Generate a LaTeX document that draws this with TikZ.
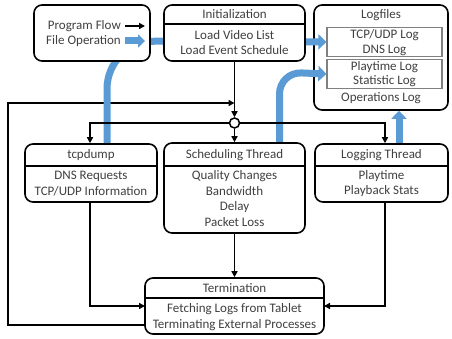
\documentclass[tikz,border=0pt]{standalone}
\usepackage{fontspec}
\setmainfont{Carlito}
\usetikzlibrary{arrows.meta}
\definecolor{tc}{HTML}{404040}
\definecolor{fblue}{HTML}{5B9BD5}
\definecolor{lgray}{HTML}{808080}
\tikzset{
  box/.style={draw, line width=1.6pt, rounded corners=8pt, fill=white, inner sep=0pt},
  logbox/.style={draw=lgray, line width=1.2pt, fill=white, inner sep=0pt},
  txt/.style={text=tc, inner sep=0pt, align=center, font=\fontsize{13}{15.5}\selectfont},
  flow/.style={line width=1.5pt, -{Triangle[length=6pt,width=6pt]}},
  fileop/.style={fblue, line width=7pt, -{Triangle[length=8pt,width=15pt]}},
  hline/.style={line width=1.6pt}
}
\begin{document}
\begin{tikzpicture}[x=1pt,y=-1pt]
\useasboundingbox (0,0) rectangle (452,339);

% Logfiles box (drawn first, blue arrows over it)
\node[box, minimum width=134pt, minimum height=105pt] (logf) at (381,57.5) {};
\node[txt] (logfT) at (381,15) {Logfiles};
\node[logbox, minimum width=115pt, minimum height=29pt] (lb1) at (384.5,42) {};
\node[txt] (lb1a) at (384.5,35) {TCP/UDP Log};
\node[txt] (lb1b) at (384.5,50.5) {DNS Log};
\node[logbox, minimum width=115pt, minimum height=29pt] (lb2) at (384.5,74) {};
\node[txt] (lb2a) at (384.5,67) {Playtime Log};
\node[txt] (lb2b) at (384.5,81.5) {Statistic Log};
\node[txt] (lb3) at (381,98) {Operations Log};

% black flow lines
\coordinate (jn) at (234.5,103);
\coordinate (tl) at (145,325);
\coordinate (tw) at (145,306);
\coordinate (te) at (324,306);
\coordinate (lp1) at (8,325);
\coordinate (lp2) at (8,103);
\node[draw, line width=1.5pt, circle, minimum size=10pt, inner sep=0pt, fill=white] (circ) at (234.5,123) {};
\draw[flow] (tl) -- (lp1) -- (lp2) -- (jn);

% Blue file operation arrows
\coordinate (tcpb) at (107,144);
\coordinate (schb) at (279.5,143);
\coordinate (logb) at (399,144);
\draw[fileop, rounded corners=48pt] (tcpb) -- (107,41) -- (lb1.west);
\draw[fileop, rounded corners=22pt] (schb) -- (279.5,72) -- (lb2.west);
\draw[fileop] (logb) -- (logf.south -| logb);

% Boxes
\node[box, minimum width=116pt, minimum height=56pt] (leg) at (92,33) {};
\node[txt, anchor=east] (legA) at (121,26) {Program Flow};
\node[txt, anchor=east] (legB) at (121,41) {File Operation};
\coordinate (la1) at (125,26);
\coordinate (la2) at (145,26);
\coordinate (lb1s) at (125,41);
\coordinate (lb2s) at (145,41);
\draw[flow] (la1) -- (la2);
\draw[fileop, -{Triangle[length=7pt,width=13pt]}] (lb1s) -- (lb2s);

\node[box, minimum width=141pt, minimum height=56pt] (init) at (234.5,33) {};
\draw[hline] (164,24) -- (305,24);
\node[txt] (initT) at (234.5,14.5) {Initialization};
\node[txt] (initB) at (234.5,42.5) {Load Video List\\Load Event Schedule};

\node[box, minimum width=132pt, minimum height=58pt] (tcp) at (91,173) {};
\draw[hline] (25,166) -- (157,166);
\node[txt] (tcpT) at (91,155) {tcpdump};
\node[txt] (tcpB) at (91,183.5) {DNS Requests\\TCP/UDP Information};

\node[box, minimum width=141pt, minimum height=90pt] (sch) at (234.5,188) {};
\draw[hline] (164,166) -- (305,166);
\node[txt] (schT) at (234.5,155) {Scheduling Thread};
\node[txt] (schB) at (234.5,198.5) {Quality Changes\\Bandwidth\\Delay\\Packet Loss};

\node[box, minimum width=133pt, minimum height=58pt] (logt) at (381.5,173) {};
\draw[hline] (315,166) -- (448,166);
\node[txt] (logtT) at (381.5,155) {Logging Thread};
\node[txt] (logtB) at (381.5,183.5) {Playtime\\Playback Stats};

\node[box, minimum width=179pt, minimum height=56pt] (term) at (234.5,306) {};
\draw[hline] (145,298) -- (324,298);
\node[txt] (termT) at (234.5,288.5) {Termination};
\node[txt] (termB) at (234.5,317) {Fetching Logs from Tablet\\Terminating External Processes};

% remaining flow
\draw[flow] (init.south) -- (circ.north);
\draw[flow] (circ.south) -- (sch.north);
\draw[flow] (circ.west) -| (tcp.north -| 90,0);
\draw[flow] (circ.east) -| ([xshift=3.5pt]logt.north);
\draw[flow] (sch.south) -- (term.north);
\draw[flow] (tcp.south -| 90,0) |- (tw);
\draw[flow] ([xshift=3.5pt]logt.south) |- (te);
\end{tikzpicture}
\end{document}
